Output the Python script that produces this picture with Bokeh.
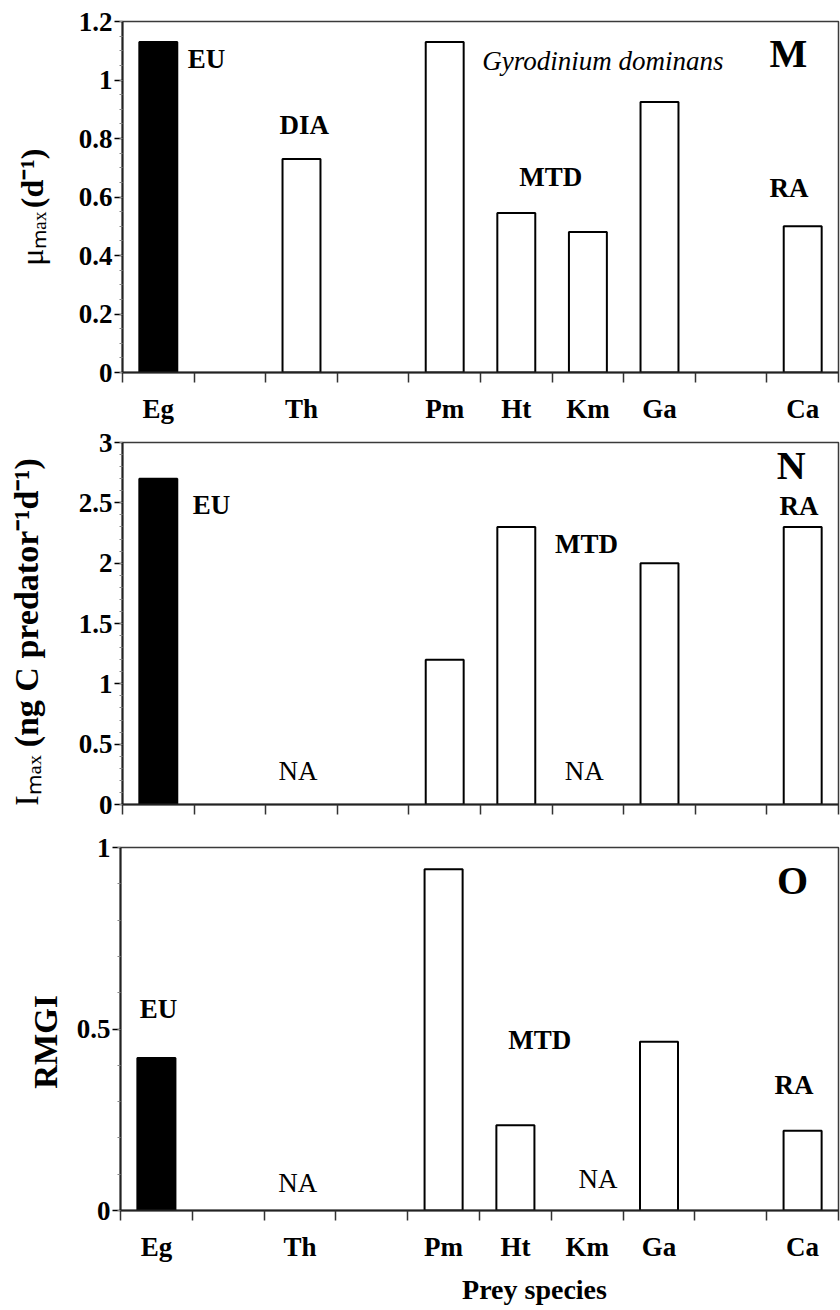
import math
import numpy as np
from bokeh.plotting import figure
from bokeh.models import Range1d, FixedTicker, Label
from bokeh.models import ColumnDataSource
from bokeh.layouts import column, row
from bokeh.embed import file_html
from bokeh.resources import INLINE

# ---------------- data ----------------
prey = ["Eg", "Th", "Pm", "Ht", "Km", "Ga", "Ca"]
prey_group = ["EU", "DIA", "MTD", "MTD", "MTD", "MTD", "RA"]
mu_max = [1.13, 0.73, 1.13, 0.545, 0.48, 0.925, 0.50]          # d-1
i_max = [2.70, np.nan, 1.20, 2.30, np.nan, 2.00, 2.30]         # ng C predator-1 d-1
rmgi = [0.42, np.nan, 0.94, 0.235, np.nan, 0.465, 0.22]

# ---------------- layout helpers ----------------
FONT = "Liberation Serif"
W = 840
TW = 62            # width of the strip that holds the rotated y titles
MID = 0.3375       # centre of the ascent/descent box above the baseline (em)
ASC = 0.891        # ascent (em)
GAP = 0.25         # word space (em)

# slot positions: one empty slot between taxonomic groups
slots = []
s = 0
for i, g in enumerate(prey_group):
    if i > 0 and g != prey_group[i - 1]:
        s += 1
    slots.append(s)
    s += 1
N_SLOTS = s
xc = [v + 0.5 for v in slots]

# approximate advance widths (em) of the regular title parts
REG = {"μ": 0.576, "I": 0.333, "ₘ": 0.56, "ₐ": 0.4, "ₓ": 0.4}


def blank_fig(width, height):
    p = figure(width=width, height=height, output_backend="svg", toolbar_location=None,
               x_range=Range1d(0, width), y_range=Range1d(0, height),
               x_axis_location=None, y_axis_location=None,
               min_border=0, min_border_left=0, min_border_right=0,
               min_border_top=0, min_border_bottom=0)
    p.xgrid.visible = False
    p.ygrid.visible = False
    p.outline_line_color = None
    return p


def title_fig(height, regular, bold, size, x0, y0):
    """Rotated (bottom-to-top) title: a regular part, a word space, then a bold
    part, all the same size; x0 = baseline position, y0 = start of the text."""
    p = blank_fig(TW, height)
    y = y0
    if regular:
        p.add_layout(Label(x=x0 - ASC * size, y=y - ASC * size, text=regular,
                           angle=math.pi / 2, text_align="left", text_baseline="top",
                           text_font=FONT, text_font_size=f"{size}px",
                           text_font_style="normal", text_color="black"))
        y += (sum(REG.get(ch, 0.5) for ch in regular) + GAP) * size
    p.add_layout(Label(x=x0 - ASC * size, y=y - ASC * size, text=bold,
                       angle=math.pi / 2, text_align="left", text_baseline="top",
                       text_font=FONT, text_font_size=f"{size}px",
                       text_font_style="bold", text_color="black"))
    return p


def add_text(p, x, y, text, size=27, style="bold", align="center"):
    p.add_layout(Label(x=x, y=y, y_offset=MID * size,
                       text=text, text_font=FONT, text_font_size=f"{size}px",
                       text_font_style=style, text_align=align,
                       text_baseline="middle", text_color="black"))


def make_panel(vals, ymax, interval, nminor, height, top, bottom, left, labels):
    p = figure(width=W - TW, height=height, output_backend="svg", toolbar_location=None,
               x_range=Range1d(0, N_SLOTS), y_range=Range1d(0, ymax),
               min_border_left=left - TW, min_border_right=2,
               min_border_top=top, min_border_bottom=bottom)
    p.xgrid.visible = False
    p.ygrid.visible = False
    p.outline_line_color = "#3a3a3a"
    p.outline_line_width = 1.5

    keep = [i for i, v in enumerate(vals) if not np.isnan(v)]
    src = ColumnDataSource(dict(
        x=[xc[i] for i in keep], top=[vals[i] for i in keep],
        name=[prey[i] for i in keep],
        fill=["black" if prey_group[i] == "EU" else "white" for i in keep]))
    p.vbar(x="x", top="top", bottom=0, width=0.53, source=src,
           fill_color="fill", line_color="black", line_width=2)

    # x axis: slot boundaries as (minor) ticks, names at slot centres
    xa = p.xaxis[0]
    if labels:
        xa.ticker = FixedTicker(ticks=xc, minor_ticks=list(range(N_SLOTS + 1)))
        xa.major_label_overrides = {xc[i]: prey[i] for i in range(len(prey))}
    else:
        xa.ticker = FixedTicker(ticks=[], minor_ticks=list(range(N_SLOTS + 1)))
    xa.major_tick_out = 0
    xa.major_tick_in = 0
    xa.minor_tick_out = 10
    xa.minor_tick_in = 0
    xa.minor_tick_line_color = "#333"
    xa.minor_tick_line_width = 1.5
    xa.axis_line_width = 2
    xa.axis_line_color = "#222"
    xa.major_label_standoff = 11
    xa.major_label_text_font = FONT
    xa.major_label_text_font_style = "bold"
    xa.major_label_text_font_size = "27px"
    xa.major_label_text_color = "black"

    nmaj = int(round(ymax / interval))
    majors = [round(k * interval, 6) for k in range(nmaj + 1)]
    minors = [round(k * interval / nminor, 6) for k in range(nmaj * nminor + 1)]
    ya = p.yaxis[0]
    ya.ticker = FixedTicker(ticks=majors, minor_ticks=minors)
    ya.major_tick_out = 8
    ya.major_tick_in = 0
    ya.minor_tick_out = 3
    ya.minor_tick_in = 0
    ya.major_tick_line_width = 1.5
    ya.minor_tick_line_color = "#888"
    ya.axis_line_width = 2
    ya.axis_line_color = "#222"
    ya.major_label_standoff = 2
    ya.major_label_text_font = FONT
    ya.major_label_text_font_style = "bold"
    ya.major_label_text_font_size = "27px"
    ya.major_label_text_color = "black"
    return p


H1, H2, H3, H4 = 426, 404, 440, 40

# ---------------- panel M ----------------
p1 = make_panel(mu_max, 1.2, 0.2, 4, H1, 21, 43, 122, True)
add_text(p1, 0.91, 1.04, "EU", align="left")
add_text(p1, 2.54, 0.816, "DIA")
add_text(p1, 5.98, 0.637, "MTD")
add_text(p1, 9.31, 0.60, "RA")
add_text(p1, 6.71, 1.034, "Gyrodinium dominans", size=27, style="italic")
add_text(p1, 9.30, 1.044, "M", size=40)
t1 = title_fig(H1, "μₘₐₓ", "(d⁻¹)", 32, 42, H1 - 268)

# ---------------- panel N ----------------
p2 = make_panel(i_max, 3.0, 0.5, 5, H2, 16, 26, 122, False)
add_text(p2, 0.98, 2.41, "EU", align="left")
add_text(p2, 6.48, 2.08, "MTD")
add_text(p2, 9.45, 2.40, "RA")
add_text(p2, 9.34, 2.70, "N", size=40)
for i, v in enumerate(i_max):
    if np.isnan(v):
        add_text(p2, xc[i] - 0.05, 0.205, "NA", size=27, style="normal")
t2 = title_fig(H2, "Iₘₐₓ", "(ng C predator⁻¹d⁻¹)", 34, 38, H2 - (802 - H1))

# ---------------- panel O ----------------
p3 = make_panel(rmgi, 1.0, 0.5, 5, H3, 17, 60, 120, True)
add_text(p3, 0.53, 0.53, "EU")
add_text(p3, 5.84, 0.444, "MTD")
add_text(p3, 9.38, 0.32, "RA")
add_text(p3, 9.36, 0.871, "O", size=40)
na_x = [2.47, 6.65]
na_y = [0.05, 0.063]
k = 0
for i, v in enumerate(rmgi):
    if np.isnan(v):
        add_text(p3, na_x[k], na_y[k], "NA", size=27, style="normal")
        k += 1
t3 = title_fig(H3, "", "RMGI", 33, 57, H3 - (1093 - H1 - H2))

# ---------------- x title ----------------
p4 = blank_fig(W, H4)
add_text(p4, 534, H4 - (1298 - H1 - H2 - H3), "Prey species", size=28)

layout = column(row(t1, p1, spacing=0), row(t2, p2, spacing=0),
                row(t3, p3, spacing=0), p4, spacing=0)
open("out.html", "w").write(file_html(layout, INLINE))
